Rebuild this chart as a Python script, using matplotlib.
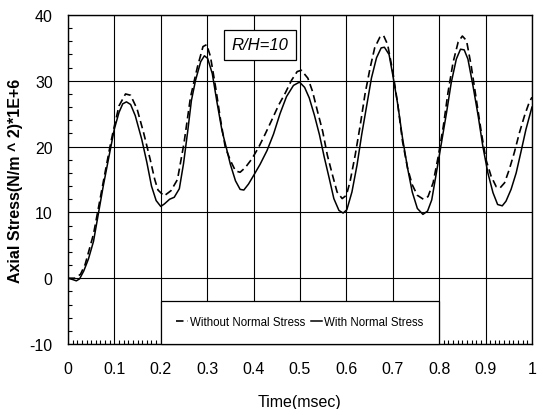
import numpy as np
import matplotlib.pyplot as plt
from matplotlib.ticker import MultipleLocator

plt.rcParams['font.family'] = ['Liberation Sans', 'DejaVu Sans']
plt.rcParams['axes.unicode_minus'] = False

# with normal stress (solid)
t_with = [0.000, 0.010, 0.018, 0.025, 0.034, 0.044, 0.055, 0.065, 0.076, 0.090,
          0.100, 0.110, 0.118, 0.126, 0.135, 0.145, 0.159, 0.170, 0.180, 0.190,
          0.200, 0.208, 0.219, 0.229, 0.240, 0.249, 0.258, 0.266, 0.275, 0.286,
          0.294, 0.301, 0.311, 0.321, 0.332, 0.341, 0.350, 0.361, 0.371, 0.379,
          0.389, 0.400, 0.414, 0.429, 0.443, 0.457, 0.471, 0.486, 0.499, 0.510,
          0.520, 0.531, 0.542, 0.552, 0.563, 0.573, 0.584, 0.593, 0.601, 0.612,
          0.623, 0.633, 0.644, 0.654, 0.665, 0.675, 0.682, 0.692, 0.700, 0.711,
          0.721, 0.732, 0.742, 0.753, 0.765, 0.775, 0.784, 0.794, 0.805, 0.816,
          0.826, 0.837, 0.846, 0.854, 0.862, 0.873, 0.884, 0.894, 0.905, 0.916,
          0.926, 0.936, 0.944, 0.955, 0.966, 0.976, 0.987, 1.000]
s_with = [0.0, -0.2, -0.4, -0.1, 1.1, 2.9, 5.6, 9.6, 14.0, 19.1,
          22.7, 25.2, 26.5, 26.8, 26.4, 24.7, 21.1, 17.6, 14.0, 11.8,
          10.9, 11.3, 12.0, 12.3, 13.6, 17.4, 22.3, 27.0, 30.1, 32.9,
          33.8, 33.4, 31.1, 26.8, 22.4, 19.9, 17.3, 14.8, 13.5, 13.4,
          14.3, 15.6, 17.3, 19.4, 21.9, 25.0, 27.6, 29.3, 29.8, 29.0,
          27.4, 24.8, 21.8, 18.5, 15.2, 12.1, 10.3, 9.9, 10.4, 13.1,
          17.2, 21.8, 26.3, 30.4, 33.5, 35.0, 35.1, 34.0, 30.9, 26.3,
          21.3, 16.7, 13.1, 10.6, 9.7, 10.2, 11.9, 16.0, 20.6, 25.2,
          29.7, 33.3, 34.8, 34.7, 33.3, 29.2, 24.7, 20.1, 16.0, 13.0,
          11.2, 11.0, 11.7, 13.5, 16.0, 19.1, 22.6, 26.0]

# without normal stress (dashed)
t_without = [0.000, 0.015, 0.027, 0.037, 0.055, 0.076, 0.090, 0.097, 0.110, 0.124,
             0.135, 0.149, 0.163, 0.177, 0.187, 0.194, 0.207, 0.222, 0.236, 0.250,
             0.257, 0.264, 0.279, 0.291, 0.299, 0.307, 0.318, 0.329, 0.339, 0.350,
             0.361, 0.371, 0.382, 0.396, 0.411, 0.425, 0.439, 0.454, 0.468, 0.482,
             0.494, 0.503, 0.517, 0.527, 0.538, 0.549, 0.559, 0.570, 0.580, 0.591,
             0.600, 0.608, 0.619, 0.630, 0.640, 0.651, 0.661, 0.672, 0.680, 0.689,
             0.700, 0.711, 0.721, 0.732, 0.742, 0.753, 0.766, 0.776, 0.787, 0.798,
             0.809, 0.819, 0.830, 0.841, 0.850, 0.859, 0.869, 0.880, 0.891, 0.901,
             0.912, 0.923, 0.931, 0.941, 0.951, 0.962, 0.973, 0.984, 0.994, 1.000]
s_without = [0.0, 0.0, 0.6, 2.1, 6.7, 14.6, 19.8, 22.2, 26.2, 28.0,
             27.8, 25.7, 22.1, 18.1, 15.0, 13.4, 12.5, 13.3, 15.0, 20.5,
             24.0, 27.5, 32.1, 35.2, 35.5, 33.7, 29.1, 24.0, 19.9, 17.9,
             16.3, 16.1, 16.8, 18.1, 19.9, 21.9, 24.0, 26.3, 28.1, 30.1,
             31.4, 31.6, 30.4, 28.4, 25.3, 22.3, 18.7, 15.7, 13.1, 12.1,
             12.6, 14.7, 18.7, 23.3, 27.9, 31.9, 35.0, 36.6, 36.9, 35.5,
             31.4, 26.3, 20.8, 16.7, 14.2, 12.6, 12.0, 12.4, 14.5, 18.5,
             23.1, 28.2, 32.8, 35.9, 36.8, 36.1, 32.3, 27.2, 22.1, 18.0,
             15.5, 13.9, 13.7, 14.5, 16.5, 19.1, 22.1, 24.7, 26.7, 27.5]

fig = plt.figure(figsize=(5.37, 4.10), dpi=100)
ax = fig.add_axes([0.1266, 0.1585, 0.8640, 0.8025])

ax.plot(t_without, s_without, color='black', linewidth=1.2, linestyle=(0, (4.5, 2.5)),
        label='Without Normal Stress')
ax.plot(t_with, s_with, color='black', linewidth=1.1, label='With Normal Stress')

ax.set_xlim(0, 1)
ax.set_ylim(-10, 40)
ax.xaxis.set_major_locator(MultipleLocator(0.1))
ax.xaxis.set_minor_locator(MultipleLocator(0.01))
ax.yaxis.set_major_locator(MultipleLocator(10))
ax.yaxis.set_minor_locator(MultipleLocator(2))
ax.xaxis.set_major_formatter(plt.FuncFormatter(lambda v, p: f'{v:g}'))
ax.tick_params(which='both', direction='in', labelsize=11.5)
ax.tick_params(which='major', length=0)
ax.tick_params(axis='x', which='major', pad=12)
ax.tick_params(axis='y', which='major', pad=11)
ax.tick_params(which='minor', length=3, width=0.8)
ax.grid(True, which='major', color='black', linewidth=0.8)
for sp in ax.spines.values():
    sp.set_linewidth(1.0)

ax.set_xlabel('Time(msec)', fontsize=11.5, labelpad=13)
ax.set_ylabel('Axial Stress(N/m ^ 2)*1E+6', fontsize=11.5, fontweight='bold')
ax.yaxis.set_label_coords(-0.098, 0.5)

ax.text(0.413, 35.5, 'R/H=10', fontsize=12, style='italic', ha='center', va='center',
        bbox=dict(boxstyle='square,pad=0.45', facecolor='white', edgecolor='black', linewidth=0.9))

leg = ax.legend(loc='lower left', bbox_to_anchor=(0.2, 0.0, 0.6, 0.1), mode='expand',
                ncol=2, fontsize=8.3, handlelength=1.0, handletextpad=0.2,
                columnspacing=0.8, borderpad=1.35, fancybox=False, framealpha=1,
                borderaxespad=0)
leg.get_frame().set_edgecolor('black')
leg.get_frame().set_linewidth(0.9)

fig.savefig('out.png', dpi=100)
